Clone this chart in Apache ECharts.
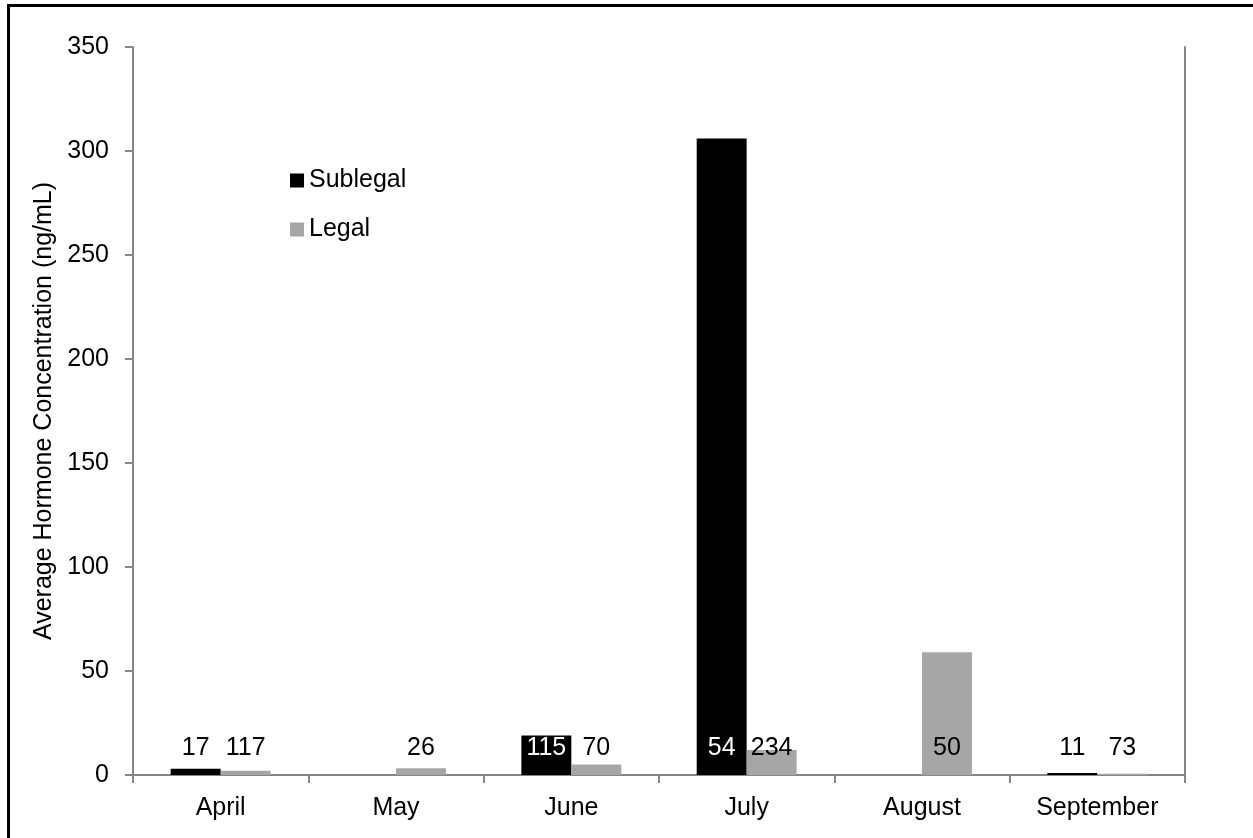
<!DOCTYPE html>
<html><head><meta charset="utf-8">
<script src="https://cdn.jsdelivr.net/npm/echarts@6/dist/echarts.min.js"></script>
<style>html,body{margin:0;padding:0;background:#fff;}#c{width:1253px;height:838px;}</style>
</head><body><div id="c"></div>
<script>
const categories = ['April','May','June','July','August','September'];
const sublegal = [3, null, 19, 306, null, 1];
const legal = [2, 3.2, 5, 12, 59, 0.6];
const nSublegal = [17, null, 115, 54, null, 11];
const nLegal = [117, 26, 70, 234, 50, 73];
const yTicks = [0, 50, 100, 150, 200, 250, 300, 350];

const FONT = '"Liberation Sans", Arial, sans-serif';
const FS = 25;
function items(vals, ns, darkBar) {
  return vals.map((v, i) => ({
    value: v,
    label: { formatter: ns[i] == null ? '' : String(ns[i]), color: (darkBar && v != null && v > 15) ? '#fff' : '#000' }
  }));
}
const chart = echarts.init(document.getElementById('c'), null, {renderer: 'canvas'});
const axisColor = '#868686';
chart.setOption({
  animation: false,
  backgroundColor: '#fff',
  textStyle: { fontFamily: FONT },
  graphic: [{ type: 'rect', left: 6, top: 3, shape: { width: 1400, height: 1000 }, style: { fill: 'none', stroke: '#000', lineWidth: 3 }, silent: true }],
  grid: { left: 133, right: 68, top: 47, bottom: 63, containLabel: false },
  legend: {
    orient: 'vertical', left: 285, top: 163, itemWidth: 14, itemHeight: 14, itemGap: 24,
    icon: 'rect',
    textStyle: { fontFamily: FONT, fontSize: FS, color: '#000' },
    data: ['Sublegal', 'Legal']
  },
  xAxis: {
    type: 'category', data: categories,
    axisLine: { lineStyle: { color: axisColor, width: 2 } },
    axisTick: { show: true, length: 8, lineStyle: { color: axisColor, width: 2 } },
    axisLabel: { fontFamily: FONT, fontSize: FS, color: '#000', margin: 21 }
  },
  yAxis: [{
    type: 'value', min: 0, max: 350, interval: 50,
    name: 'Average Hormone Concentration (ng/mL)', nameLocation: 'middle', nameGap: 73,
    nameTextStyle: { fontFamily: FONT, fontSize: FS, color: '#000' },
    axisLine: { show: true, lineStyle: { color: axisColor, width: 2 } },
    axisTick: { show: true, length: 8, lineStyle: { color: axisColor, width: 2 } },
    axisLabel: { fontFamily: FONT, fontSize: FS, color: '#000', margin: 24,
      formatter: v => yTicks.includes(v) ? String(v) : '' },
    splitLine: { show: false }
  }, {
    type: 'value', min: 0, max: 350, interval: 50, position: 'right',
    axisLine: { show: true, lineStyle: { color: axisColor, width: 2 } },
    axisTick: { show: false }, axisLabel: { show: false }, splitLine: { show: false }
  }],
  series: [{
    name: 'Sublegal', type: 'bar', data: items(sublegal, nSublegal, true),
    itemStyle: { color: '#000' }, barGap: '0%', barCategoryGap: '43%',
    label: { show: true, position: 'insideBottom', distance: 14, fontFamily: FONT, fontSize: FS }
  }, {
    name: 'Legal', type: 'bar', data: items(legal, nLegal, false),
    itemStyle: { color: '#a6a6a6' }, barGap: '0%', barCategoryGap: '43%',
    label: { show: true, position: 'insideBottom', distance: 14, fontFamily: FONT, fontSize: FS }
  }]
});
</script></body></html>
